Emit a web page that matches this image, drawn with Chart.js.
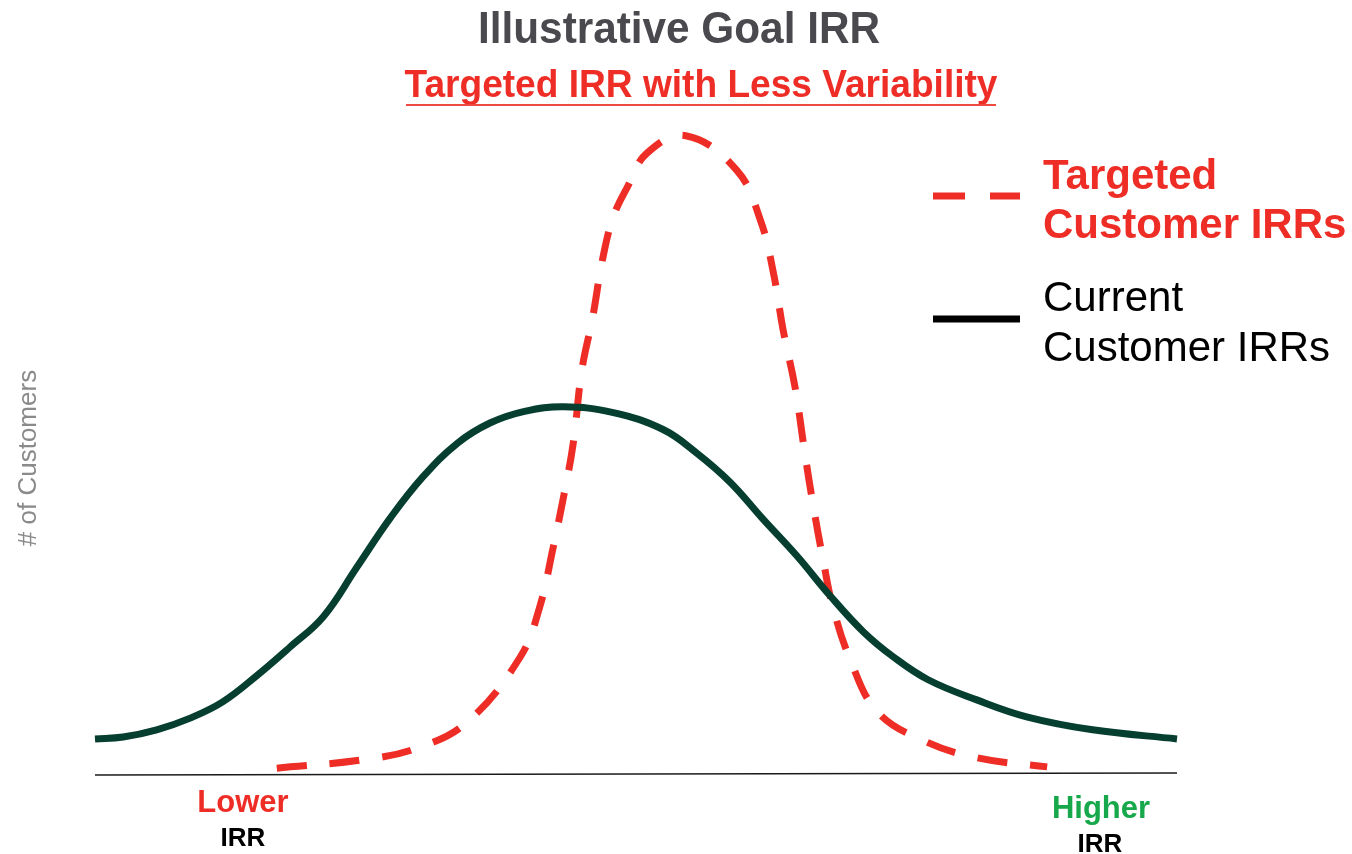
<!DOCTYPE html>
<html>
<head>
<meta charset="utf-8">
<title>Illustrative Goal IRR</title>
<script src="https://cdn.jsdelivr.net/npm/chart.js@4/dist/chart.umd.min.js"></script>
<style>
  html, body { margin: 0; padding: 0; background: #ffffff; }
  #wrap { width: 1352px; height: 854px; }
</style>
</head>
<body>
<div id="wrap"><canvas id="chart" width="1352" height="854"></canvas></div>
<script>
// IRR position (0 = lowest, 100 = highest) and relative customer counts
const currentIrr = [0, 2.6, 5.7, 8.8, 11.8, 15.0, 18.0, 21.1, 24.2, 27.3, 30.3, 33.5, 36.5, 39.7, 43.3,
  47.9, 52.5, 55.6, 58.7, 61.7, 64.9, 67.9, 71.0, 73.8, 77.0, 81.5, 86.1, 92.2, 100];
const currentCustomers = [5.4, 5.7, 6.8, 8.6, 11.1, 15.2, 19.5, 24.2, 31.8, 39.4, 45.7, 50.9, 54.0, 55.8, 56.5,
  55.6, 53.0, 49.4, 44.9, 39.3, 33.5, 27.5, 21.9, 18.0, 14.5, 11.4, 8.8, 6.8, 5.4];

const targetIrr = [16.8, 24.8, 29.8, 34.4, 39.3, 41.1, 42.3, 43.3, 44.2, 45.0, 46.0, 46.9, 47.9, 49.2,
  51.0, 54.6, 59.3, 61.5, 62.7, 63.6, 64.7, 65.6, 66.4, 67.3, 68.2, 69.8, 72.3, 76.5, 81.5, 88.0];
const targetCustomers = [0.9, 2.2, 4.0, 8.0, 18.0, 25.7, 34.5, 42.6, 50.9, 62.2, 70.3, 79.1, 85.7, 90.3,
  95.5, 98.2, 92.9, 85.2, 77.1, 68.3, 59.5, 49.4, 41.1, 32.9, 25.7, 17.6, 9.6, 5.2, 2.5, 1.1];

const seriesNames = ['Targeted Customer IRRs', 'Current Customer IRRs'];
const chartTitle = 'Illustrative Goal IRR';
const chartSubtitle = 'Targeted IRR with Less Variability';
const yAxisTitle = '# of Customers';
const axisEndLabels = [['Lower', 'IRR'], ['Higher', 'IRR']];

const RED = '#ee2e26';
const GREEN_DARK = '#063f2f';
const GREEN = '#16a84a';
const FONT = '"Liberation Sans", Arial, Helvetica, sans-serif';

const toPoints = (xs, ys) => xs.map((x, i) => ({ x: x, y: ys[i] }));

// draw text centred on cx, squeezed horizontally to the given width
function fitText(ctx, text, cx, y, width) {
  const m = ctx.measureText(text).width;
  ctx.save();
  ctx.translate(cx, y);
  ctx.scale(width / m, 1);
  ctx.textAlign = 'center';
  ctx.fillText(text, 0, 0);
  ctx.restore();
}

// Titles, legend, axis captions and baseline
const decorations = {
  id: 'decorations',
  afterDraw(chart) {
    const ctx = chart.ctx;
    const area = chart.chartArea;
    const yZero = chart.scales.y.getPixelForValue(0);
    ctx.save();

    // baseline
    ctx.strokeStyle = '#1a1a1a';
    ctx.lineWidth = 1.5;
    ctx.beginPath();
    ctx.moveTo(area.left, yZero + 1);
    ctx.lineTo(area.right, yZero - 1);
    ctx.stroke();

    ctx.textBaseline = 'alphabetic';

    // title
    ctx.fillStyle = '#49494e';
    ctx.font = 'bold 44px ' + FONT;
    fitText(ctx, chartTitle, 679, 43, 402);

    // subtitle with underline
    ctx.fillStyle = RED;
    ctx.font = 'bold 39px ' + FONT;
    fitText(ctx, chartSubtitle, 701, 97, 593);
    ctx.strokeStyle = '#ef4a42';
    ctx.lineWidth = 2;
    ctx.beginPath();
    ctx.moveTo(406, 105);
    ctx.lineTo(996, 105);
    ctx.stroke();

    // legend: dashed red sample
    ctx.lineCap = 'butt';
    ctx.strokeStyle = RED;
    ctx.lineWidth = 7;
    ctx.beginPath();
    ctx.moveTo(933, 196); ctx.lineTo(965, 196);
    ctx.moveTo(990, 196); ctx.lineTo(1020, 196);
    ctx.stroke();
    // legend: solid sample
    ctx.strokeStyle = '#000000';
    ctx.beginPath();
    ctx.moveTo(933, 319); ctx.lineTo(1020, 319);
    ctx.stroke();

    ctx.textAlign = 'left';
    ctx.fillStyle = RED;
    ctx.font = 'bold 42px ' + FONT;
    ctx.fillText('Targeted', 1043, 189);
    ctx.fillText('Customer IRRs', 1043, 238);
    ctx.fillStyle = '#000000';
    ctx.font = '42px ' + FONT;
    ctx.fillText('Current', 1043, 311);
    ctx.fillText('Customer IRRs', 1043, 361);

    // y axis caption
    ctx.save();
    ctx.translate(36, 458);
    ctx.rotate(-Math.PI / 2);
    ctx.textAlign = 'center';
    ctx.fillStyle = '#8a8a8a';
    ctx.font = '26px ' + FONT;
    ctx.fillText(yAxisTitle, 0, 0);
    ctx.restore();

    // axis end labels
    ctx.textAlign = 'center';
    ctx.font = 'bold 31px ' + FONT;
    ctx.fillStyle = RED;
    ctx.fillText(axisEndLabels[0][0], 243, 812);
    ctx.fillStyle = GREEN;
    ctx.fillText(axisEndLabels[1][0], 1101, 818);
    ctx.fillStyle = '#000000';
    ctx.font = 'bold 26px ' + FONT;
    ctx.fillText(axisEndLabels[0][1], 243, 846);
    ctx.fillText(axisEndLabels[1][1], 1100, 852);

    ctx.restore();
  }
};

new Chart(document.getElementById('chart'), {
  type: 'line',
  data: {
    datasets: [
      {
        label: seriesNames[1],
        data: toPoints(currentIrr, currentCustomers),
        borderColor: GREEN_DARK,
        borderWidth: 7,
        pointRadius: 0,
        fill: false,
        tension: 0.4
      },
      {
        label: seriesNames[0],
        data: toPoints(targetIrr, targetCustomers),
        borderColor: RED,
        borderWidth: 7,
        borderDash: [30, 23],
        borderCapStyle: 'butt',
        pointRadius: 0,
        fill: false,
        tension: 0.4
      }
    ]
  },
  options: {
    responsive: false,
    animation: false,
    devicePixelRatio: 1,
    layout: { padding: { left: 95, right: 175, top: 124, bottom: 80 } },
    scales: {
      x: { type: 'linear', min: 0, max: 100, display: false },
      y: { type: 'linear', min: 0, max: 100, display: false }
    },
    plugins: {
      legend: { display: false },
      title: { display: false },
      tooltip: { enabled: false }
    },
    clip: false
  },
  plugins: [decorations]
});
</script>
</body>
</html>
